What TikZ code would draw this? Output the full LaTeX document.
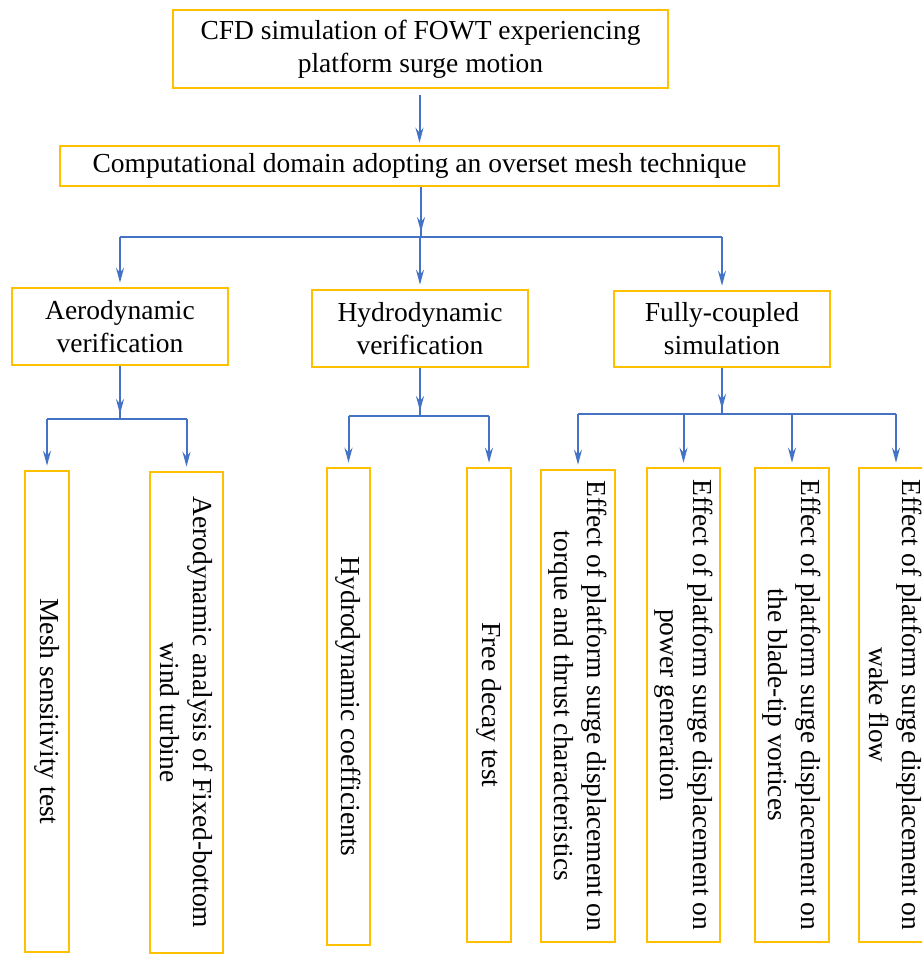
\documentclass[tikz,border=0pt]{standalone}
\usepackage{fontspec}
\setmainfont{Liberation Serif}
\usetikzlibrary{arrows.meta,calc}
\definecolor{boxor}{HTML}{FFC000}
\definecolor{arrblue}{HTML}{4472C4}
\begin{document}
\begin{tikzpicture}[x=1pt,y=-1pt,
  box/.style={draw=boxor,line width=2.6pt,fill=white,inner sep=2pt,align=center,
    font=\fontsize{27.5}{33}\selectfont},
  vbox/.style={box,rotate=-90},
  bline/.style={draw=arrblue,line width=2pt},
  arr/.style={bline,-{Stealth[length=15pt,width=8pt,inset=5pt]},shorten >=4pt}
]
\useasboundingbox (0,0) rectangle (922,954);
\clip (0,0) rectangle (922,954);
\fill[white] (0,0) rectangle (922,954);

% top levels
\node[box,minimum width=495pt,minimum height=78pt] (top) at (420.5,49)
  {CFD simulation of FOWT experiencing\\platform surge motion};
\node[box,minimum width=719pt,minimum height=40pt] (dom) at (419.5,166)
  {Computational domain adopting an overset mesh technique};

\node[box,minimum width=216pt,minimum height=77pt] (aero) at (120,326.5)
  {Aerodynamic\\verification};
\node[box,minimum width=216pt,minimum height=77pt] (hydro) at (420,328.5)
  {Hydrodynamic\\verification};
\node[box,minimum width=216pt,minimum height=76pt] (full) at (722,329)
  {Fully-coupled\\simulation};

% bottom vertical boxes
\node[vbox,minimum width=481pt,minimum height=44pt] (mesh) at (47,711.5)
  {Mesh sensitivity test};
\node[vbox,minimum width=481pt,minimum height=73pt] (aeroana) at (186.5,712.5)
  {Aerodynamic analysis of Fixed-bottom\\wind turbine};
\node[vbox,minimum width=477pt,minimum height=43pt] (hcoef) at (348.5,706.5)
  {Hydrodynamic coefficients};
\node[vbox,minimum width=474pt,minimum height=44pt] (decay) at (489,705)
  {Free decay test};
\node[vbox,minimum width=472pt,minimum height=74pt] (e1) at (578,706)
  {Effect of platform surge displacement on\\torque and thrust characteristics};
\node[vbox,minimum width=474pt,minimum height=73pt] (e2) at (683.5,705)
  {Effect of platform surge displacement on\\power generation};
\node[vbox,minimum width=474pt,minimum height=74pt] (e3) at (792,705)
  {Effect of platform surge displacement on\\the blade-tip vortices};
\node[vbox,minimum width=474pt,minimum height=74pt] (e4) at (896,705)
  {Effect of platform surge displacement on\\wake flow};

% junctions
\coordinate (j1) at (421,237);
\coordinate (j2) at (120,419);
\coordinate (j3) at (420,416);
\coordinate (j4) at (722,414);

% connectors
\draw[arr,shorten <=6pt,shorten >=2pt] (top.south -| dom.north) -- (dom.north);
\draw[bline] (dom.south -| j1) -- (j1);
\draw[arr,shorten >=0pt] (dom.south -| j1) -- ($(j1)+(0,-5)$);
\draw[bline] (j1 -| aero.north) -- (j1 -| full.north);
\draw[arr] (j1 -| aero.north) -- (aero.north);
\draw[arr] (j1 -| hydro.north) -- (hydro.north);
\draw[arr] (j1 -| full.north) -- (full.north);

\draw[bline] (aero.south) -- (j2);
\draw[arr,shorten >=0pt] (aero.south) -- ($(j2)+(0,-5)$);
\draw[bline] (j2 -| mesh.west) -- (j2 -| aeroana.west);
\draw[arr] (j2 -| mesh.west) -- (mesh.west);
\draw[arr] (j2 -| aeroana.west) -- (aeroana.west);

\draw[bline] (hydro.south) -- (j3);
\draw[arr,shorten >=0pt] (hydro.south) -- ($(j3)+(0,-5)$);
\draw[bline] (j3 -| hcoef.west) -- (j3 -| decay.west);
\draw[arr] (j3 -| hcoef.west) -- (hcoef.west);
\draw[arr] (j3 -| decay.west) -- (decay.west);

\draw[bline] (full.south) -- (j4);
\draw[arr,shorten >=0pt] (full.south) -- ($(j4)+(0,-5)$);
\draw[bline] (j4 -| e1.west) -- (j4 -| e4.west);
\draw[arr] (j4 -| e1.west) -- (e1.west);
\draw[arr] (j4 -| e2.west) -- (e2.west);
\draw[arr] (j4 -| e3.west) -- (e3.west);
\draw[arr] (j4 -| e4.west) -- (e4.west);
\end{tikzpicture}
\end{document}
